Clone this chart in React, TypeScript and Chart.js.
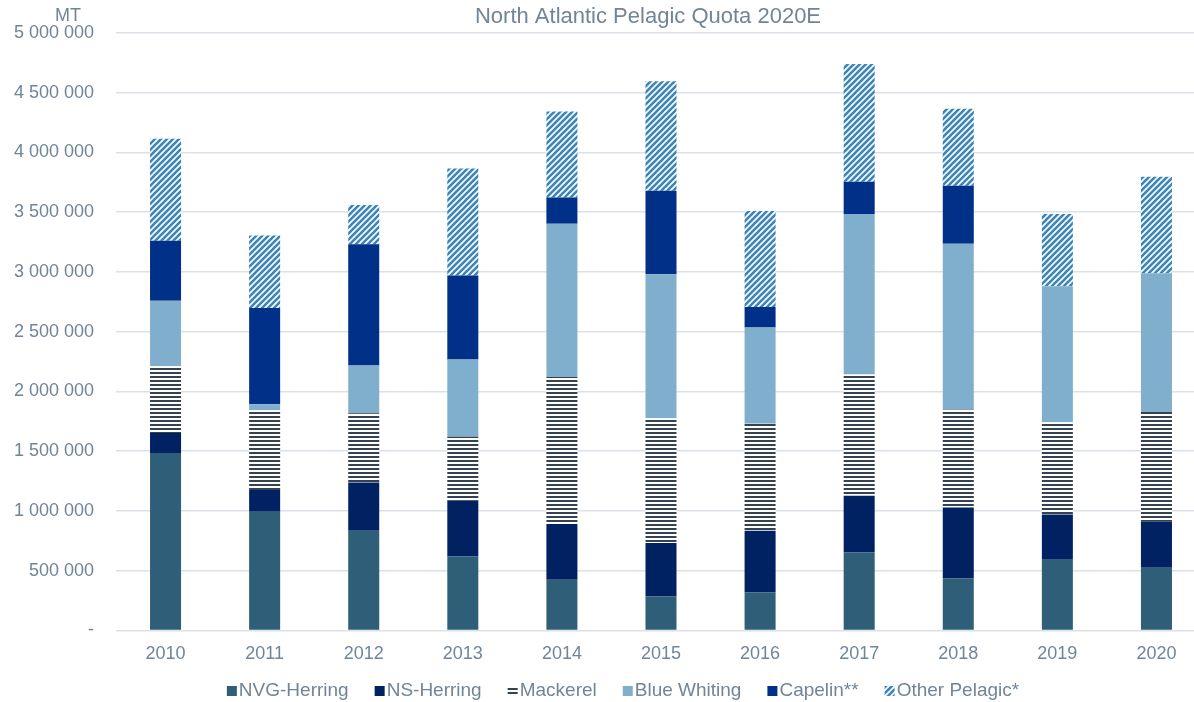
import { useEffect, useRef } from 'react';
import { Chart, registerables } from 'chart.js';

Chart.register(...registerables);

const categories = ['2010', '2011', '2012', '2013', '2014', '2015', '2016', '2017', '2018', '2019', '2020'];
const nvgHerring = [1485000, 993000, 834000, 620000, 423000, 284000, 319000, 651000, 434000, 592000, 525000];
const nsHerring = [166000, 181000, 403000, 464000, 467000, 447000, 515000, 475000, 594000, 378000, 384000];
const mackerel = [559000, 668000, 579000, 537000, 1231000, 1043000, 895000, 1015000, 818000, 771000, 918000];
const blueWhiting = [548000, 50000, 400000, 645000, 1282000, 1206000, 806000, 1343000, 1390000, 1139000, 1161000];
const capelin = [503000, 805000, 1014000, 703000, 219000, 698000, 170000, 269000, 484000, 0, 0];
const otherPelagic = [853000, 607000, 329000, 895000, 720000, 917000, 804000, 987000, 645000, 604000, 807000];

const seriesLabels = ['NVG-Herring', 'NS-Herring', 'Mackerel', 'Blue Whiting', 'Capelin**', 'Other Pelagic*'];
const titleText = 'North Atlantic Pelagic Quota 2020E';
const unitText = 'MT';

const TEXT = '#718599';
const FONT = '"Liberation Sans", Arial, sans-serif';

function stripePattern(): CanvasPattern | string {
  const c = document.createElement('canvas');
  c.width = 4;
  c.height = 4;
  const g = c.getContext('2d');
  if (!g) return '#37474F';
  g.fillStyle = '#ffffff';
  g.fillRect(0, 0, 4, 4);
  g.fillStyle = '#34434F';
  g.fillRect(0, 0, 4, 2);
  return g.createPattern(c, 'repeat') || '#37474F';
}

function hatchPattern(): CanvasPattern | string {
  const s = 6;
  const c = document.createElement('canvas');
  c.width = s;
  c.height = s;
  const g = c.getContext('2d');
  if (!g) return '#3F87B5';
  g.fillStyle = '#ffffff';
  g.fillRect(0, 0, s, s);
  g.strokeStyle = '#3A86B6';
  g.lineWidth = 2.6;
  g.lineCap = 'square';
  g.beginPath();
  g.moveTo(-1, s + 1);
  g.lineTo(s + 1, -1);
  g.moveTo(-s / 2 - 1, s / 2 + 1);
  g.lineTo(s / 2 + 1, -s / 2 - 1);
  g.moveTo(s / 2 - 1, s * 1.5 + 1);
  g.lineTo(s * 1.5 + 1, s / 2 - 1);
  g.stroke();
  return g.createPattern(c, 'repeat') || '#3F87B5';
}

const legendPlugin = {
  id: 'customLegend',
  afterDraw(chart: any) {
    const ctx = chart.ctx as CanvasRenderingContext2D;
    ctx.save();
    ctx.font = `19px ${FONT}`;
    const items = chart.data.datasets.map((ds: any) => ({
      label: ds.label as string,
      fill: ds.backgroundColor,
      w: ctx.measureText(ds.label).width,
    }));
    const box = 10;
    const gap = 2;
    const spacing = 26;
    const total =
      items.reduce((s: number, it: any) => s + box + gap + it.w, 0) + spacing * (items.length - 1);
    const center = (chart.chartArea.left + chart.chartArea.right) / 2 - 38;
    let x = center - total / 2;
    const y = chart.height - 11;
    ctx.textBaseline = 'middle';
    ctx.textAlign = 'left';
    items.forEach((it: any) => {
      ctx.fillStyle = it.fill;
      ctx.fillRect(x, y - box / 2, box, box);
      x += box + gap;
      ctx.fillStyle = TEXT;
      ctx.fillText(it.label, x, y);
      x += it.w + spacing;
    });
    ctx.restore();
  },
};

const unitPlugin = {
  id: 'unitLabel',
  afterDraw(chart: any) {
    const ctx = chart.ctx as CanvasRenderingContext2D;
    ctx.save();
    ctx.font = `18px ${FONT}`;
    ctx.fillStyle = TEXT;
    ctx.textAlign = 'center';
    ctx.textBaseline = 'middle';
    ctx.fillText(unitText, chart.chartArea.left - 48, chart.chartArea.top - 17);
    ctx.restore();
  },
};

// Center the title over the visible page rather than the full (wider) canvas.
const titleShiftPlugin = {
  id: 'titleShift',
  afterLayout(chart: any) {
    const tb = chart.titleBlock;
    if (tb) {
      tb.left += 90;
    }
  },
};

function fmt(v: number): string {
  if (v === 0) return '-';
  return String(v).replace(/\B(?=(\d{3})+(?!\d))/g, ' ');
}

export default function App() {
  const ref = useRef<HTMLCanvasElement | null>(null);

  useEffect(() => {
    if (!ref.current) return;
    const mk = stripePattern();
    const hatch = hatchPattern();
    const series = [nvgHerring, nsHerring, mackerel, blueWhiting, capelin, otherPelagic];
    const fills: any[] = ['#2E5E78', '#002162', mk, '#80AFCD', '#003087', hatch];
    const chart = new Chart(ref.current, {
      type: 'bar',
      data: {
        labels: categories,
        datasets: series.map((d, i) => ({
          label: seriesLabels[i],
          data: d,
          backgroundColor: fills[i],
          borderWidth: 0,
          categoryPercentage: 1,
          barPercentage: 0.313,
        })),
      },
      options: {
        responsive: false,
        animation: false,
        devicePixelRatio: 1,
        layout: { padding: { left: 0, right: 90, top: 0, bottom: 32 } },
        plugins: {
          legend: { display: false },
          tooltip: { enabled: false },
          title: {
            display: true,
            text: titleText,
            color: TEXT,
            font: { family: FONT, size: 22, weight: 'normal' },
            padding: { top: 1, bottom: 2.8 },
          },
        },
        scales: {
          x: {
            stacked: true,
            grid: { display: false },
            border: { display: false },
            ticks: { color: TEXT, font: { family: FONT, size: 18 }, padding: 5, maxRotation: 0 },
          },
          y: {
            stacked: true,
            min: 0,
            max: 5000000,
            afterFit: (scale: any) => {
              scale.width = 116;
            },
            grid: { color: '#DCE1E7', lineWidth: 1.5, drawTicks: false },
            border: { display: false },
            ticks: {
              stepSize: 500000,
              color: TEXT,
              font: { family: FONT, size: 18 },
              padding: 22,
              callback: (v: any) => fmt(Number(v)),
            },
          },
        },
      },
      plugins: [legendPlugin, unitPlugin, titleShiftPlugin],
    });
    return () => chart.destroy();
  }, []);

  return (
    <div
      style={{
        position: 'fixed',
        left: 0,
        top: 0,
        width: 1194,
        height: 702,
        overflow: 'hidden',
        background: '#ffffff',
      }}
    >
      <canvas ref={ref} width={1296} height={702} style={{ display: 'block' }} />
    </div>
  );
}
